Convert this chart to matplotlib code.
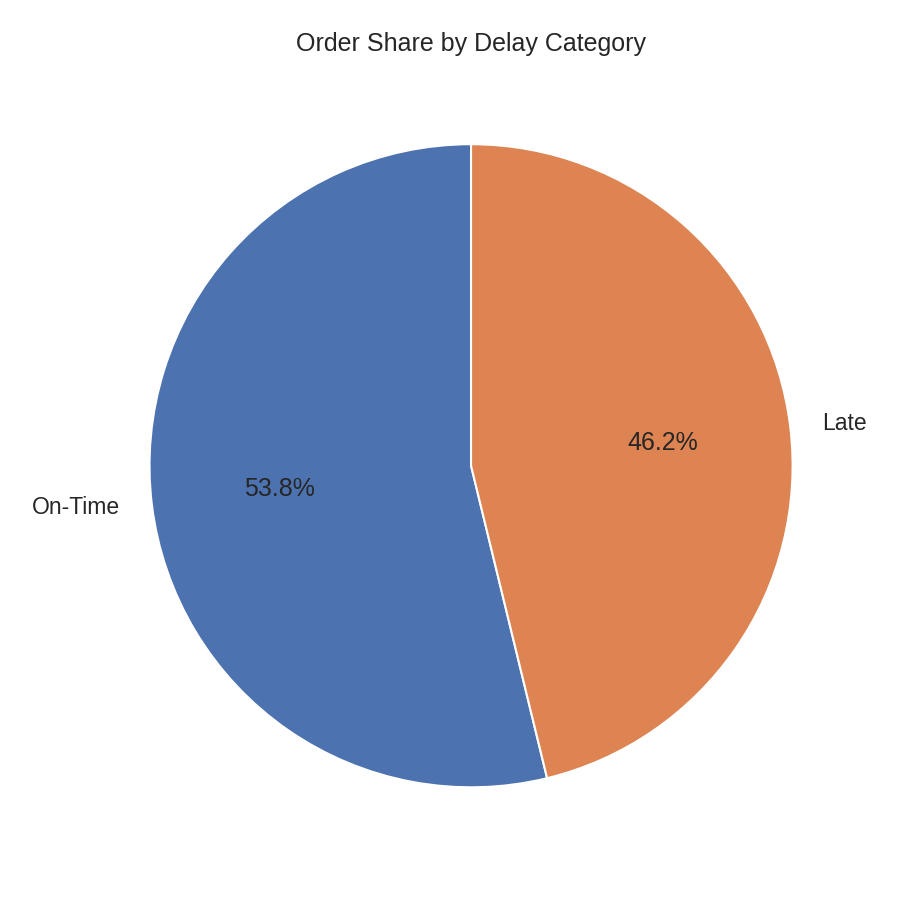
import matplotlib
matplotlib.use("Agg")
import matplotlib.pyplot as plt
import seaborn as sns

sns.set_theme()
plt.rcParams["font.family"] = ["Liberation Sans", "DejaVu Sans"]

categories = ["On-Time", "Late"]
shares = [53.8, 46.2]

fig, ax = plt.subplots(figsize=(6, 6), dpi=150)
colors = sns.color_palette()[:2]
wedges, texts, autotexts = ax.pie(shares, labels=categories, autopct="%1.1f%%",
                                  startangle=90, colors=colors,
                                  textprops={"fontsize": 11})
for t in autotexts:
    t.set_fontsize(12)
ax.set_title("Order Share by Delay Category", fontsize=12)
plt.tight_layout()
plt.savefig("out.png", dpi=150)
